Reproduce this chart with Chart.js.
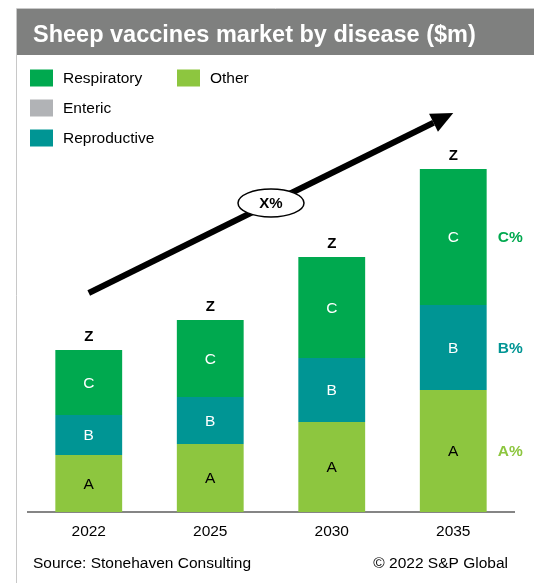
<!DOCTYPE html>
<html>
<head>
<meta charset="utf-8">
<script src="https://cdn.jsdelivr.net/npm/chart.js@4/dist/chart.umd.min.js"></script>
<style>
  html, body { margin: 0; padding: 0; background: #fff; }
  #wrap { width: 534px; height: 583px; position: relative; }
</style>
</head>
<body>
<div id="wrap"><canvas id="c"></canvas></div>
<script>
// values (bar heights, y scale 0-400)
const years = ['2022', '2025', '2030', '2035'];
const other = [57, 68, 90, 122];
const enteric = [0, 0, 0, 0];
const reproductive = [40, 47, 64, 85];
const respiratory = [65, 77, 101, 136];

const totalLabels = ['Z', 'Z', 'Z', 'Z'];
const shareLabels = { Other: 'A%', Reproductive: 'B%', Respiratory: 'C%' };
const segLabels = { Other: 'A', Reproductive: 'B', Respiratory: 'C' };
const growthLabel = 'X%';
const arrowFrom = 219; // y value at 2022
const arrowTo = 399;   // y value at 2035

const FONT = '"Liberation Sans", Arial, sans-serif';
const colors = {
  Respiratory: '#00a94f',
  Enteric: '#b1b3b6',
  Reproductive: '#009594',
  Other: '#8dc63f'
};

// title, legend, footer
const frame = {
  id: 'frame',
  beforeDraw(chart) {
    const ctx = chart.ctx;
    ctx.save();
    ctx.fillStyle = '#fff';
    ctx.fillRect(0, 0, chart.width, chart.height);
    // panel border
    ctx.strokeStyle = '#c8c8c8';
    ctx.lineWidth = 1;
    ctx.beginPath();
    ctx.moveTo(16.5, 583);
    ctx.lineTo(16.5, 8.5);
    ctx.lineTo(534, 8.5);
    ctx.stroke();
    // title bar
    ctx.fillStyle = '#7f807f';
    ctx.fillRect(17, 9, 517, 46);
    ctx.fillStyle = '#fff';
    ctx.font = 'bold 23.5px ' + FONT;
    ctx.textBaseline = 'alphabetic';
    ctx.fillText('Sheep vaccines market by disease ($m)', 33, 42);

    // legend
    const items = [
      ['Respiratory', 30, 78], ['Enteric', 30, 108], ['Reproductive', 30, 138],
      ['Other', 177, 78]
    ];
    ctx.font = '15.5px ' + FONT;
    ctx.textBaseline = 'middle';
    items.forEach(([name, x, y]) => {
      const ds = chart.data.datasets.find(d => d.label === name);
      ctx.fillStyle = ds.backgroundColor;
      ctx.fillRect(x, y - 8.5, 23, 17);
      ctx.fillStyle = '#000';
      ctx.fillText(ds.label, x + 33, y + 1);
    });

    // footer
    ctx.fillStyle = '#000';
    ctx.fillText('Source: Stonehaven Consulting', 33, 564);
    ctx.textAlign = 'right';
    ctx.fillText('\u00a9 2022 S&P Global', 508, 564);
    ctx.restore();
  }
};

const annotations = {
  id: 'annotations',
  afterDatasetsDraw(chart) {
    const ctx = chart.ctx;
    const xs = chart.scales.x, ys = chart.scales.y;
    ctx.save();
    ctx.textAlign = 'center';
    ctx.textBaseline = 'middle';

    // labels inside segments
    chart.data.datasets.forEach((ds, i) => {
      const txt = segLabels[ds.label];
      if (!txt) return;
      chart.getDatasetMeta(i).data.forEach(bar => {
        ctx.font = '15.5px ' + FONT;
        ctx.fillStyle = ds.label === 'Other' ? '#000' : '#fff';
        ctx.fillText(txt, bar.x, (bar.y + bar.base) / 2 + 1);
      });
      // share labels to the right of the last bar
      const last = chart.getDatasetMeta(i).data[years.length - 1];
      ctx.font = 'bold 15.5px ' + FONT;
      ctx.fillStyle = ds.backgroundColor;
      ctx.fillText(shareLabels[ds.label], last.x + 57, (last.y + last.base) / 2 + 1);
    });

    // totals above bars
    ctx.font = 'bold 15px ' + FONT;
    ctx.fillStyle = '#000';
    years.forEach((y, j) => {
      const total = other[j] + enteric[j] + reproductive[j] + respiratory[j];
      ctx.fillText(totalLabels[j], xs.getPixelForValue(j), ys.getPixelForValue(total) - 13);
    });

    // growth arrow
    const x0 = xs.getPixelForValue(0), y0 = ys.getPixelForValue(arrowFrom);
    const x1 = xs.getPixelForValue(years.length - 1), y1 = ys.getPixelForValue(arrowTo);
    const ang = Math.atan2(y1 - y0, x1 - x0);
    const headLen = 22, headW = 10;
    const bx = x1 - headLen * Math.cos(ang), by = y1 - headLen * Math.sin(ang);
    ctx.strokeStyle = '#000';
    ctx.lineWidth = 6;
    ctx.beginPath();
    ctx.moveTo(x0, y0);
    ctx.lineTo(bx, by);
    ctx.stroke();
    ctx.fillStyle = '#000';
    ctx.beginPath();
    ctx.moveTo(x1, y1);
    ctx.lineTo(bx + headW * Math.sin(ang), by - headW * Math.cos(ang));
    ctx.lineTo(bx - headW * Math.sin(ang), by + headW * Math.cos(ang));
    ctx.closePath();
    ctx.fill();

    // ellipse with growth rate
    const mx = (x0 + x1) / 2, my = (y0 + y1) / 2;
    ctx.beginPath();
    ctx.ellipse(mx, my, 33, 14, 0, 0, Math.PI * 2);
    ctx.fillStyle = '#fff';
    ctx.fill();
    ctx.lineWidth = 1.5;
    ctx.stroke();
    ctx.fillStyle = '#000';
    ctx.font = 'bold 15px ' + FONT;
    ctx.fillText(growthLabel, mx, my + 1);
    ctx.restore();
  }
};

new Chart(document.getElementById('c'), {
  type: 'bar',
  data: {
    labels: years,
    datasets: [
      { label: 'Other', data: other, backgroundColor: colors.Other },
      { label: 'Enteric', data: enteric, backgroundColor: colors.Enteric },
      { label: 'Reproductive', data: reproductive, backgroundColor: colors.Reproductive },
      { label: 'Respiratory', data: respiratory, backgroundColor: colors.Respiratory }
    ]
  },
  options: {
    responsive: true,
    maintainAspectRatio: false,
    animation: false,
    layout: { padding: { left: 28, right: 20, top: 112, bottom: 0 } },
    datasets: { bar: { categoryPercentage: 0.55, barPercentage: 1, borderWidth: 0 } },
    plugins: { legend: { display: false }, tooltip: { enabled: false } },
    scales: {
      x: {
        stacked: true,
        grid: { display: false, drawTicks: false },
        border: { display: true, color: '#858585', width: 2 },
        ticks: { color: '#000', font: { family: FONT, size: 15.5 }, padding: 10 },
        afterFit(scale) { scale.height = 71; }
      },
      y: { stacked: true, display: false, min: 0, max: 400 }
    }
  },
  plugins: [frame, annotations]
});
</script>
</body>
</html>
